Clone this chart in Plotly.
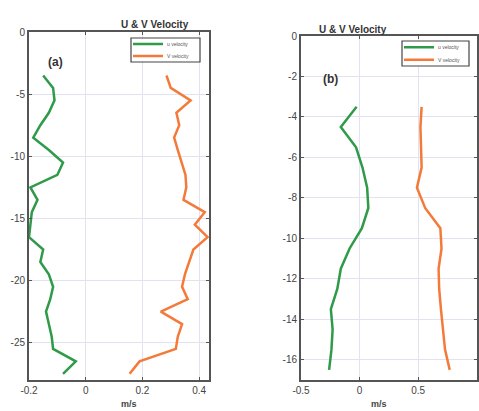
import plotly.graph_objects as go

# ---- data: panel (a) ----
depth_a = [-3.5, -4.5, -5.5, -6.5, -7.5, -8.5, -9.5, -10.5, -11.5, -12.5, -13.5, -14.5,
           -15.5, -16.5, -17.5, -18.5, -19.5, -20.5, -21.5, -22.5, -23.5, -24.5, -25.5,
           -26.5, -27.5]
u_a = [-0.15, -0.115, -0.11, -0.13, -0.16, -0.185, -0.13, -0.08, -0.10, -0.195, -0.17,
       -0.19, -0.195, -0.2, -0.15, -0.16, -0.13, -0.115, -0.125, -0.14, -0.13, -0.12,
       -0.115, -0.035, -0.08]
v_a = [0.285, 0.30, 0.37, 0.32, 0.33, 0.312, 0.325, 0.338, 0.352, 0.355, 0.345, 0.42,
       0.385, 0.43, 0.38, 0.365, 0.35, 0.34, 0.36, 0.265, 0.34, 0.325, 0.318, 0.19, 0.155]

# ---- data: panel (b) ----
depth_b = [-3.5, -4.5, -5.5, -6.5, -7.5, -8.5, -9.5, -10.5, -11.5, -12.5, -13.5, -14.5,
           -15.5, -16.5]
u_b = [-0.025, -0.16, -0.03, 0.025, 0.065, 0.075, 0.02, -0.085, -0.16, -0.19, -0.245,
       -0.23, -0.24, -0.26]
v_b = [0.53, 0.52, 0.525, 0.53, 0.49, 0.56, 0.69, 0.70, 0.675, 0.68, 0.695, 0.71, 0.73,
       0.77]

# ---- tick labels / names ----
xt_a = [-0.2, 0, 0.2, 0.4]
xt_a_txt = ["-0.2", "0", "0.2", "0.4"]
yt_a = [0, -5, -10, -15, -20, -25]
yt_a_txt = ["0", "-5", "-10", "-15", "-20", "-25"]
xt_b = [-0.5, 0, 0.5, 1]
xt_b_txt = ["-0.5", "0", "0.5", "1"]
yt_b = [0, -2, -4, -6, -8, -10, -12, -14, -16]
yt_b_txt = ["0", "-2", "-4", "-6", "-8", "-10", "-12", "-14", "-16"]
series_names = ["u velocity", "V velocity"]

GREEN = "#2f9a48"
ORANGE = "#f47a3a"
COLORS = [GREEN, ORANGE]

fig = go.Figure()
fig.add_trace(go.Scatter(x=u_a, y=depth_a, mode="lines", name=series_names[0],
                         line=dict(color=GREEN, width=2.5), xaxis="x", yaxis="y"))
fig.add_trace(go.Scatter(x=v_a, y=depth_a, mode="lines", name=series_names[1],
                         line=dict(color=ORANGE, width=2.5), xaxis="x", yaxis="y"))
fig.add_trace(go.Scatter(x=u_b, y=depth_b, mode="lines", name=series_names[0],
                         line=dict(color=GREEN, width=2.5), xaxis="x2", yaxis="y2"))
fig.add_trace(go.Scatter(x=v_b, y=depth_b, mode="lines", name=series_names[1],
                         line=dict(color=ORANGE, width=2.5), xaxis="x2", yaxis="y2"))

H = 411.0
W = 479.0
axis_common = dict(showline=True, linecolor="#555555", linewidth=2, mirror="ticks",
                   ticks="inside", ticklen=3, tickcolor="#555555", automargin=False,
                   showgrid=True, gridcolor="#e2e3f0", gridwidth=1, zeroline=False,
                   tickfont=dict(family="Arial, Liberation Sans", size=10, color="#444444"))

shapes = []
annotations = [
    dict(text="<b>U & V Velocity</b>", x=119 / W, y=(H - 17) / H, xref="paper",
         yref="paper", showarrow=False, font=dict(family="Arial", size=10, color="#333333")),
    dict(text="<b>U & V Velocity</b>", x=389 / W, y=(H - 22) / H, xref="paper",
         yref="paper", showarrow=False, font=dict(family="Arial", size=10, color="#333333")),
    dict(text="<b>(a)</b>", x=46 / W, y=(H - 53) / H, xref="paper", yref="paper",
         showarrow=False, font=dict(family="Arial", size=12, color="#333333")),
    dict(text="<b>(b)</b>", x=340 / W, y=(H - 70) / H, xref="paper", yref="paper",
         showarrow=False, font=dict(family="Arial", size=12, color="#333333")),
    dict(text="<b>m/s</b>", x=119 / W, y=0, xref="paper", yref="paper", yanchor="bottom",
         showarrow=False, font=dict(family="Arial", size=9, color="#444444")),
    dict(text="<b>m/s</b>", x=389 / W, y=0, xref="paper", yref="paper", yanchor="bottom",
         showarrow=False, font=dict(family="Arial", size=9, color="#444444")),
]

# legend boxes (pixel positions of box: left, top, right, bottom)
for (l, t, r, b) in [(131, 38, 200, 62), (402, 41, 469, 66)]:
    shapes.append(dict(type="rect", xref="paper", yref="paper",
                       x0=l / W, x1=r / W, y0=(H - b) / H, y1=(H - t) / H,
                       line=dict(color="#444444", width=1.2), fillcolor="white", layer="above"))
    rowh = (b - t) / 2.0
    for i, (nm, col) in enumerate(zip(series_names, COLORS)):
        yc = t + rowh * (i + 0.5)
        shapes.append(dict(type="line", xref="paper", yref="paper",
                           x0=(l + 2) / W, x1=(l + 32) / W, y0=(H - yc) / H, y1=(H - yc) / H,
                           line=dict(color=col, width=2.5), layer="above"))
        annotations.append(dict(text=nm, x=(l + 34) / W, y=(H - yc) / H, xref="paper",
                                yref="paper", xanchor="left", yanchor="middle",
                                showarrow=False,
                                font=dict(family="Arial", size=5, color="#555555")))

fig.update_layout(
    width=479, height=411,
    margin=dict(l=0, r=0, t=0, b=0),
    paper_bgcolor="white", plot_bgcolor="white",
    showlegend=False,
    xaxis=dict(domain=[29 / W, 209 / W], range=[-0.2, 0.435], anchor="y",
               tickvals=xt_a, ticktext=xt_a_txt, **axis_common),
    yaxis=dict(domain=[(H - 380) / H, (H - 32) / H], range=[-28, 0], anchor="x",
               tickvals=yt_a, ticktext=yt_a_txt, **axis_common),
    xaxis2=dict(domain=[301 / W, 477 / W], range=[-0.5, 1.003], anchor="y2",
                tickvals=xt_b, ticktext=xt_b_txt, **axis_common),
    yaxis2=dict(domain=[(H - 380) / H, (H - 36) / H], range=[-17, 0], anchor="x2",
                tickvals=yt_b, ticktext=yt_b_txt, **axis_common),
    shapes=shapes,
    annotations=annotations,
)

fig.write_html("out.html", config={"displayModeBar": False},
               post_script="document.body.style.margin='0';document.body.style.overflow='hidden';")
